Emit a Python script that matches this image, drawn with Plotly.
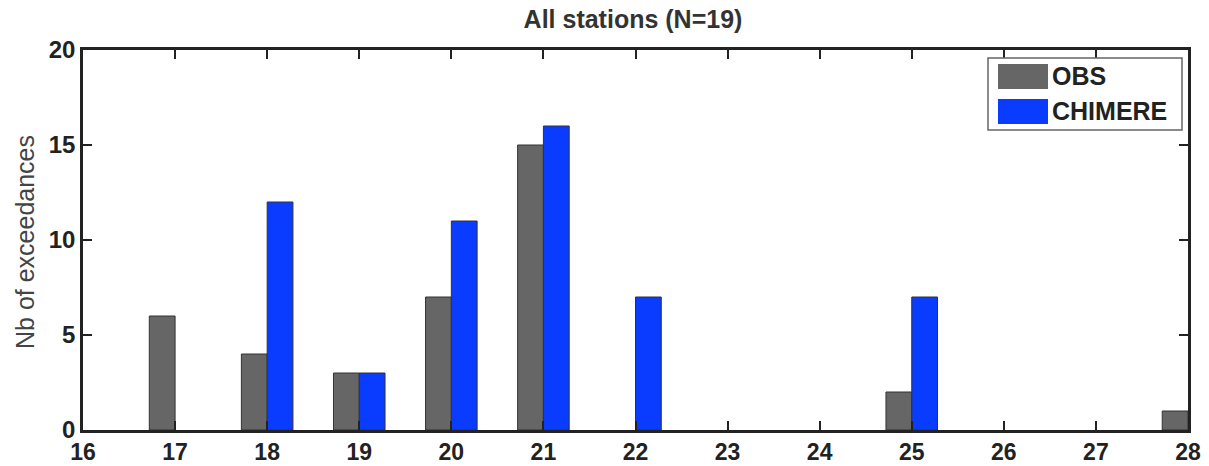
import plotly.graph_objects as go

obs_x = [17, 18, 19, 20, 21, 25, 28]
obs_y = [6, 4, 3, 7, 15, 2, 1]
chim_x = [18, 19, 20, 21, 22, 25]
chim_y = [12, 3, 11, 16, 7, 7]
x_ticks = list(range(16, 29))
y_ticks = [0, 5, 10, 15, 20]
series_names = ["OBS", "CHIMERE"]
series_colors = ["#666666", "#0a3cff"]

W = 0.28
font_fam = "Liberation Sans, Arial, sans-serif"
fig = go.Figure()
fig.add_trace(go.Bar(x=obs_x, y=obs_y, name=series_names[0], width=W, offset=-W,
                     marker=dict(color=series_colors[0], line=dict(color="#333333", width=1))))
fig.add_trace(go.Bar(x=chim_x, y=chim_y, name=series_names[1], width=W, offset=0,
                     marker=dict(color=series_colors[1], line=dict(color="#333333", width=1))))

# plot area in page pixels: x 83..1188, y 50..430
L, R, T, B = 83, 21, 50, 36
PW, PH = 1209 - L - R, 466 - T - B

def px(x):
    return (x - L) / PW

def py(y):
    return (466 - B - y) / PH

# custom legend (large rectangular swatches like the original)
shapes = [dict(type="rect", xref="paper", yref="paper", x0=px(988), x1=px(1182), y0=py(130), y1=py(58),
               line=dict(color="#666666", width=1.5), fillcolor="white", layer="above")]
annotations = []
rows = [(64, 89, 76), (99, 124, 111)]
for (ya, yb, yc), nm, col in zip(rows, series_names, series_colors):
    shapes.append(dict(type="rect", xref="paper", yref="paper", x0=px(998), x1=px(1048),
                       y0=py(yb), y1=py(ya), line=dict(color=col, width=0), fillcolor=col, layer="above"))
    annotations.append(dict(text=f"<b>{nm}</b>", xref="paper", yref="paper", x=px(1050), y=py(yc),
                            xanchor="left", yanchor="middle", showarrow=False,
                            font=dict(family=font_fam, size=25, color="#222222")))
annotations.append(dict(text="Nb of exceedances", xref="paper", yref="paper", x=px(25), y=py(242),
                        xanchor="center", yanchor="middle", textangle=-90, showarrow=False,
                        font=dict(family=font_fam, size=25, color="#444444")))

fig.update_layout(
    width=1209, height=466,
    margin=dict(l=L, r=R, t=T, b=B, autoexpand=False),
    paper_bgcolor="white", plot_bgcolor="white",
    barmode="overlay",
    showlegend=False,
    shapes=shapes, annotations=annotations,
    title=dict(text="<b>All stations (N=19)</b>", x=633 / 1209, xanchor="center",
               y=1 - 19 / 466, yanchor="middle", font=dict(family=font_fam, size=25, color="#333333")),
    xaxis=dict(range=[16, 28], tickvals=x_ticks,
               ticktext=[f"<b>{v}</b>" for v in x_ticks], automargin=False,
               ticks="inside", ticklen=9, tickwidth=2, tickcolor="#222222",
               showline=True, linecolor="#222222", linewidth=2.5, mirror="ticks",
               showgrid=False, zeroline=False, ticklabelstandoff=0,
               tickfont=dict(family=font_fam, size=23, color="#222222")),
    yaxis=dict(range=[0, 20], tickvals=y_ticks,
               ticktext=[f"<b>{v}</b>" for v in y_ticks], automargin=False,
               ticks="inside", ticklen=9, tickwidth=2, tickcolor="#222222",
               showline=True, linecolor="#222222", linewidth=2.5, mirror="ticks",
               showgrid=False, zeroline=False,
               tickfont=dict(family=font_fam, size=24, color="#222222")),
)
fig.write_html("out.html", post_script="document.body.style.margin='0';",
               config={"displayModeBar": False})
